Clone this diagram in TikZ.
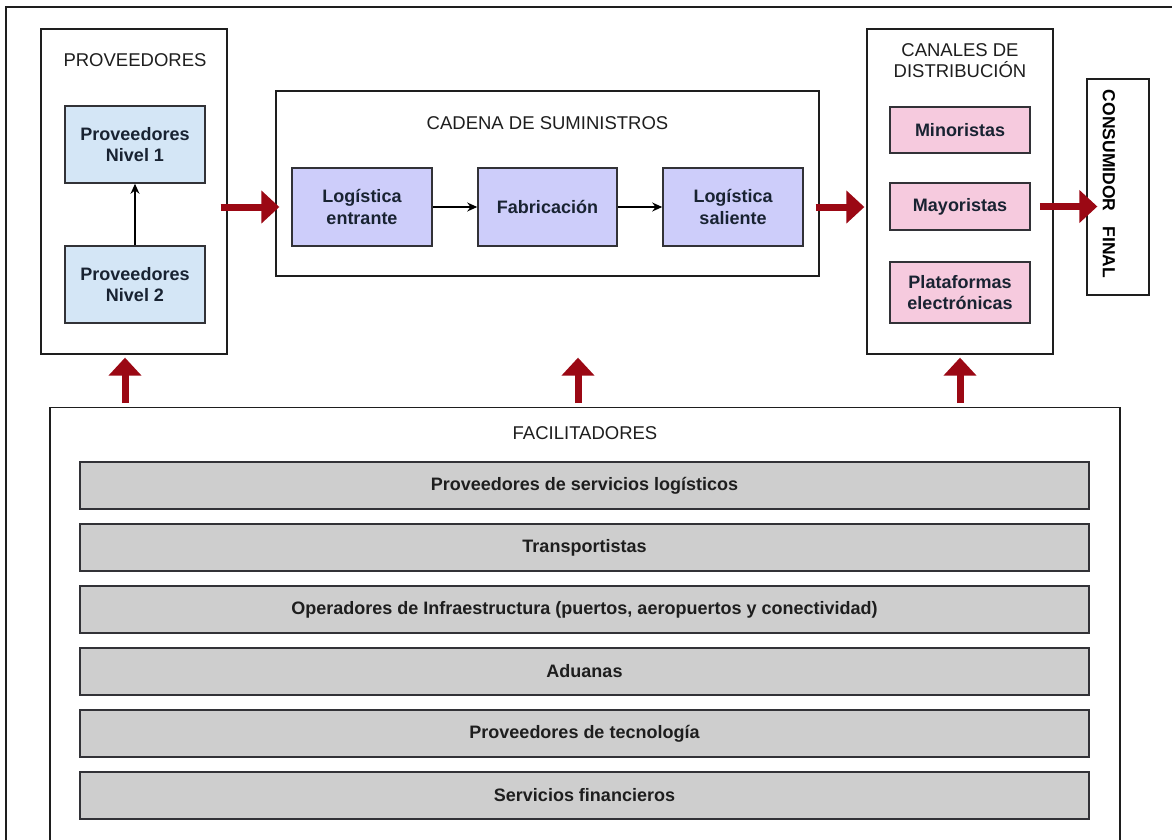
\documentclass[tikz,border=0pt]{standalone}
\usepackage{fontspec}
\setmainfont{Liberation Sans}
\usetikzlibrary{arrows.meta,calc}
\definecolor{frameline}{RGB}{30,30,30}
\definecolor{boxline}{RGB}{50,50,55}
\definecolor{txt}{RGB}{30,30,30}
\definecolor{boxtxt}{RGB}{25,35,50}
\definecolor{bluefill}{RGB}{212,230,246}
\definecolor{lavfill}{RGB}{205,205,250}
\definecolor{pinkfill}{RGB}{246,202,222}
\definecolor{grayfill}{RGB}{206,206,206}
\definecolor{arrowred}{RGB}{155,8,20}
\begin{document}
\begin{tikzpicture}[x=1pt,y=-1pt,
  container/.style={draw=frameline, line width=1.3pt, fill=white, inner sep=0pt},
  titletext/.style={font=\fontsize{18.5}{22}\selectfont, text=txt, align=center, inner sep=0pt},
  colbox/.style={draw=boxline, line width=1.6pt, inner sep=0pt, align=center, text=boxtxt,
    font=\fontsize{18}{21.5}\selectfont\bfseries},
  bluebox/.style={colbox, fill=bluefill, minimum width=140pt, minimum height=77pt},
  lavbox/.style={colbox, fill=lavfill, minimum width=140pt, minimum height=78pt},
  pinkbox/.style={colbox, fill=pinkfill, minimum width=140pt},
  graybar/.style={draw=boxline, line width=2pt, fill=grayfill, inner sep=0pt, text=txt,
    minimum width=1009pt, minimum height=47pt, font=\fontsize{18}{21}\selectfont\bfseries},
  thinarrow/.style={draw=black, line width=1.2pt, -{Stealth[length=10pt,width=9pt]}},
  redarrow/.style={draw=arrowred, line width=7pt, -{Triangle[width=32pt,length=18pt]}}
]
\useasboundingbox (0,0) rectangle (1172,839);
\clip (0,0) rectangle (1172,839);
\fill[white] (0,0) rectangle (1172,839);

% outer frame (continues past the crop)
\draw[frameline, line width=1.5pt] (6,900) -- (6,7) -- (1200,7);

% Proveedores
\node[container, minimum width=186pt, minimum height=325pt] (prov) at (134,191.5) {};
\node[titletext] (provt) at (135,60) {PROVEEDORES};
\node[bluebox] (n1) at (135,144.5) {Proveedores\\Nivel 1};
\node[bluebox] (n2) at (135,284.5) {Proveedores\\Nivel 2};
\draw[thinarrow] (n2.north) -- (n1.south);

% Cadena de suministros
\node[container, minimum width=543pt, minimum height=185pt] (cadena) at (547.5,183.5) {};
\node[titletext] (cadt) at (547.5,123) {CADENA DE SUMINISTROS};
\node[lavbox] (le) at (362,207) {Logística\\entrante};
\node[lavbox, minimum width=139pt] (fab) at (547.5,207) {Fabricación};
\node[lavbox] (ls) at (733,207) {Logística\\saliente};
\draw[thinarrow] (le.east) -- (fab.west);
\draw[thinarrow] (fab.east) -- (ls.west);

% Canales de distribucion
\node[container, minimum width=186pt, minimum height=325pt] (canales) at (960,191.5) {};
\node[titletext, font=\fontsize{18.5}{21}\selectfont] (cant) at (960,60.5) {CANALES DE\\DISTRIBUCIÓN};
\node[pinkbox, minimum height=46pt] (mino) at (960,130) {Minoristas};
\node[pinkbox, minimum height=47pt] (mayo) at (960,206.5) {Mayoristas};
\node[pinkbox, minimum height=61pt] (plat) at (960,292.5) {Plataformas\\electrónicas};

% Consumidor final
\node[container, minimum width=62pt, minimum height=216pt] (cons) at (1118,187) {};
\node[rotate=-90, inner sep=0pt, text=black, font=\fontsize{17.5}{20}\selectfont\bfseries]
  (const) at ([xshift=-9pt,yshift=3pt]cons.center) {CONSUMIDOR\hspace{15pt}FINAL};

% Facilitadores
\node[container, anchor=north, minimum width=1070pt, minimum height=520pt] (fac) at (585,407) {};
\node[titletext] (fact) at (585,433) {FACILITADORES};
\node[graybar] (b1) at (584.5,485.5) {Proveedores de servicios logísticos};
\node[graybar] (b2) at (584.5,547.5) {Transportistas};
\node[graybar] (b3) at (584.5,609.5) {Operadores de Infraestructura (puertos, aeropuertos y conectividad)};
\node[graybar] (b4) at (584.5,671.5) {Aduanas};
\node[graybar] (b5) at (584.5,733.5) {Proveedores de tecnología};
\node[graybar] (b6) at (584.5,795.5) {Servicios financieros};

% red arrows
\draw[redarrow] ([xshift=-7pt]prov.east |- le.west) -- ([xshift=4pt]cadena.west |- le.west);
\draw[redarrow] ([xshift=-4pt]cadena.east |- ls.east) -- ([xshift=-2pt]canales.west |- ls.east);
\draw[redarrow] ([xshift=9pt]mayo.east) -- ([xshift=11pt]cons.west |- mayo.east);
\draw[redarrow] ([xshift=-9pt,yshift=4pt]fac.north -| prov.south) -- ([xshift=-9pt,yshift=-3pt]prov.south);
\draw[redarrow] ([xshift=-7pt,yshift=4pt]fac.north) -- ([xshift=-7pt,yshift=-3pt]fac.north |- prov.south);
\draw[redarrow] ([yshift=4pt]fac.north -| canales.south) -- ([yshift=-3pt]canales.south);
\end{tikzpicture}
\end{document}
